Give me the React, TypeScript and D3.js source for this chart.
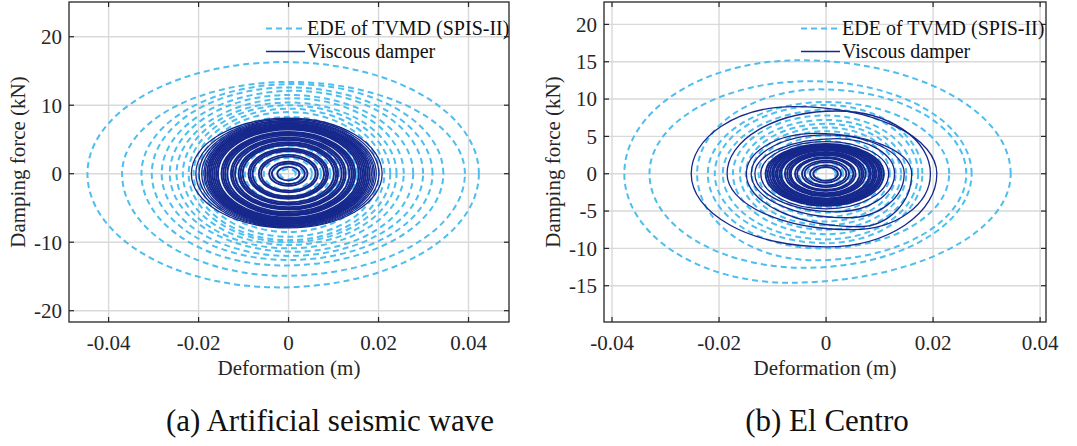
import React from 'react';
import * as d3 from 'd3';

// ---------- data ----------
const xTicks = [-0.04, -0.02, 0, 0.02, 0.04];
const yTicksA = [-20, -10, 0, 10, 20];
const yTicksB = [-15, -10, -5, 0, 5, 10, 15, 20];
const legendLabels = ['EDE of TVMD (SPIS-II)', 'Viscous damper'];
const captions = ['(a) Artificial seismic wave', '(b) El Centro'];
const xTitle = 'Deformation (m)';
const yTitle = 'Damping force (kN)';

// each hysteresis loop: [dispMax, forceMax, dispMin, forceMin, dispAtForceMax, dispAtForceMin]
const artificialEDE: number[][] = [
  [0.0423, 16.3, -0.0447, -16.6, -0.001, -0.002],
  [0.0392, 13.4, -0.037, -14.9, 0.0, -0.001],
  [0.0344, 13.1, -0.0327, -13.4, 0.001, -0.001],
  [0.032, 12.6, -0.0304, -12.6, 0.0, 0.0],
  [0.0299, 12.1, -0.0282, -12.0, 0.001, 0.0],
  [0.0277, 11.5, -0.0264, -11.4, 0.0, 0.001],
  [0.0256, 11.0, -0.0249, -10.9, 0.001, 0.0],
  [0.024, 10.4, -0.0235, -10.4, 0.0, 0.0],
  [0.0226, 10.0, -0.0222, -10.0, 0.0, 0.0],
  [0.0213, 9.5, -0.0211, -9.7, 0.0, 0.0],
  [0.0201, 9.0, -0.02, -9.2, 0.0, 0.0],
  [0.0186, 8.3, -0.019, -8.5, 0.0, 0.0],
  [0.017, 7.5, -0.0175, -7.7, 0.0, 0.0],
  [0.0152, 6.7, -0.0157, -6.8, 0.0, 0.0],
  [0.0133, 5.9, -0.0137, -6.0, 0.0, 0.0],
  [0.0113, 5.0, -0.0117, -5.1, 0.0, 0.0],
  [0.0093, 4.1, -0.0097, -4.2, 0.0, 0.0],
  [0.0072, 3.2, -0.0076, -3.3, 0.0, 0.0],
  [0.0052, 2.3, -0.0055, -2.4, 0.0, 0.0],
  [0.0032, 1.4, -0.0035, -1.5, 0.0, 0.0],
  [0.0016, 0.7, -0.0019, -0.8, 0.0, 0.0],
];

const artificialViscous: number[][] = [
  [0.0208, 8.1, -0.0216, -7.9, 0.0, 0.0],
  [0.0201, 7.95, -0.0206, -7.8, 0.0, 0.0],
  [0.0195, 7.8, -0.0199, -7.7, 0.0, 0.0],
  [0.0191, 7.7, -0.0193, -7.6, 0.0, 0.0],
  [0.0188, 7.6, -0.0188, -7.5, 0.0, 0.0],
  [0.0184, 7.5, -0.0185, -7.4, 0.0, 0.0],
  [0.018, 7.35, -0.0181, -7.3, 0.0, 0.0],
  [0.0176, 7.2, -0.0177, -7.15, 0.0, 0.0],
  [0.0172, 7.05, -0.0173, -7.0, 0.0, 0.0],
  [0.0168, 6.9, -0.0169, -6.85, 0.0, 0.0],
  [0.0164, 6.75, -0.0165, -6.7, 0.0, 0.0],
  [0.016, 6.6, -0.0161, -6.55, 0.0, 0.0],
  [0.0156, 6.45, -0.0157, -6.4, 0.0, 0.0],
  [0.0148, 6.1, -0.0149, -6.1, 0.0, 0.0],
  [0.0144, 5.95, -0.0145, -5.95, 0.0, 0.0],
  [0.014, 5.8, -0.0141, -5.8, 0.0, 0.0],
  [0.0135, 5.6, -0.0136, -5.6, 0.0, 0.0],
  [0.0127, 5.3, -0.0128, -5.25, 0.0, 0.0],
  [0.0123, 5.1, -0.0124, -5.1, 0.0, 0.0],
  [0.0118, 4.9, -0.0119, -4.9, 0.0, 0.0],
  [0.011, 4.6, -0.0111, -4.55, 0.0, 0.0],
  [0.0106, 4.4, -0.0107, -4.4, 0.0, 0.0],
  [0.0101, 4.2, -0.0102, -4.2, 0.0, 0.0],
  [0.0088, 3.7, -0.0089, -3.65, 0.0, 0.0],
  [0.0084, 3.5, -0.0085, -3.5, 0.0, 0.0],
  [0.0079, 3.3, -0.008, -3.3, 0.0, 0.0],
  [0.0065, 2.75, -0.0066, -2.7, 0.0, 0.0],
  [0.006, 2.5, -0.0061, -2.5, 0.0, 0.0],
  [0.0042, 1.75, -0.0043, -1.75, 0.0, 0.0],
  [0.0036, 1.5, -0.0037, -1.5, 0.0, 0.0],
  [0.0024, 1.0, -0.0025, -1.0, 0.0, 0.0],
];

const elCentroEDE: number[][] = [
  [0.0345, 15.2, -0.0377, -14.6, -0.005, -0.007],
  [0.0272, 12.4, -0.033, -12.6, -0.003, -0.004],
  [0.0262, 11.3, -0.0241, -11.6, -0.001, -0.002],
  [0.023, 9.6, -0.0221, -10.0, 0.0, -0.001],
  [0.018, 9.2, -0.0208, -9.3, 0.0, 0.0],
  [0.0172, 8.6, -0.0193, -8.8, 0.001, 0.0],
  [0.0161, 7.8, -0.0174, -8.1, 0.0, 0.0],
  [0.015, 7.2, -0.0161, -7.5, 0.0, 0.0],
  [0.014, 6.7, -0.015, -6.9, 0.0, 0.0],
  [0.013, 6.2, -0.0139, -6.4, 0.0, 0.0],
  [0.0119, 5.7, -0.0126, -5.8, 0.0, 0.0],
  [0.0106, 5.1, -0.0112, -5.2, 0.0, 0.0],
  [0.0092, 4.4, -0.0097, -4.5, 0.0, 0.0],
  [0.0077, 3.7, -0.0082, -3.8, 0.0, 0.0],
  [0.0062, 3.0, -0.0066, -3.1, 0.0, 0.0],
  [0.0047, 2.3, -0.0051, -2.3, 0.0, 0.0],
  [0.0032, 1.5, -0.0035, -1.6, 0.0, 0.0],
  [0.0018, 0.9, -0.002, -0.9, 0.0, 0.0],
];

const elCentroViscous: number[][] = [
  [0.0207, 9.0, -0.0252, -9.8, -0.006, 0.0],
  [0.0195, 8.4, -0.0185, -7.5, 0.002, 0.005],
  [0.016, 5.4, -0.0149, -7.1, -0.002, 0.006],
  [0.0146, 5.2, -0.014, -5.9, 0.0, 0.004],
  [0.0128, 4.7, -0.0133, -5.1, 0.002, 0.002],
  [0.0117, 4.3, -0.0122, -4.7, 0.0, 0.0],
  [0.0108, 4.0, -0.0113, -4.3, 0.0, 0.0],
  [0.0104, 3.9, -0.0109, -4.15, 0.0, 0.0],
  [0.0101, 3.8, -0.0105, -4.0, 0.0, 0.0],
  [0.0098, 3.7, -0.0101, -3.9, 0.0, 0.0],
  [0.0094, 3.6, -0.0098, -3.8, 0.0, 0.0],
  [0.0091, 3.5, -0.0094, -3.65, 0.0, 0.0],
  [0.0088, 3.4, -0.0091, -3.55, 0.0, 0.0],
  [0.0084, 3.25, -0.0087, -3.4, 0.0, 0.0],
  [0.0081, 3.15, -0.0084, -3.3, 0.0, 0.0],
  [0.0074, 2.9, -0.0077, -3.0, 0.0, 0.0],
  [0.007, 2.75, -0.0073, -2.9, 0.0, 0.0],
  [0.0067, 2.6, -0.0069, -2.75, 0.0, 0.0],
  [0.0063, 2.5, -0.0066, -2.6, 0.0, 0.0],
  [0.0055, 2.2, -0.0058, -2.3, 0.0, 0.0],
  [0.0051, 2.05, -0.0054, -2.15, 0.0, 0.0],
  [0.0043, 1.75, -0.0045, -1.8, 0.0, 0.0],
  [0.0038, 1.55, -0.004, -1.6, 0.0, 0.0],
  [0.0028, 1.15, -0.003, -1.2, 0.0, 0.0],
  [0.0022, 0.9, -0.0024, -0.95, 0.0, 0.0],
];

// ---------- styling ----------
const FONT = '"Liberation Serif", "Times New Roman", serif';
const LIGHT = '#4dbeee';
const DARK = '#16288c';
const GRID = '#d9d9d9';
const AXIS = '#262626';

type Scale = d3.ScaleLinear<number, number>;

function loopPath(l: number[], x: Scale, y: Scale): string {
  const [dMax, fMax, dMin, fMin, dT = 0, dB = 0] = l;
  const y0 = y(0);
  const rx = x(dMax), tx = x(dT), ty = y(fMax), lx = x(dMin), bx = x(dB), by = y(fMin);
  const p = d3.path();
  p.moveTo(rx, y0);
  const s = (v: number) => Math.max(0.01, Math.abs(v)).toFixed(2);
  return (
    p.toString() +
    `A${s(rx - tx)},${s(y0 - ty)} 0 0 0 ${tx.toFixed(2)},${ty.toFixed(2)}` +
    `A${s(tx - lx)},${s(y0 - ty)} 0 0 0 ${lx.toFixed(2)},${y0.toFixed(2)}` +
    `A${s(bx - lx)},${s(by - y0)} 0 0 0 ${bx.toFixed(2)},${by.toFixed(2)}` +
    `A${s(rx - bx)},${s(by - y0)} 0 0 0 ${rx.toFixed(2)},${y0.toFixed(2)}Z`
  );
}

interface PanelProps {
  id: string;
  left: number;
  right: number;
  top: number;
  bottom: number;
  xDomain: [number, number];
  yDomain: [number, number];
  yTicks: number[];
  ede: number[][];
  viscous: number[][];
  caption: string;
  captionX: number;
  legendX: number;
}

function Panel(p: PanelProps) {
  const x = d3.scaleLinear().domain(p.xDomain).range([p.left, p.right]);
  const y = d3.scaleLinear().domain(p.yDomain).range([p.bottom, p.top]);
  const tick = 5;
  const midX = (p.left + p.right) / 2;
  const midY = (p.top + p.bottom) / 2;
  return (
    <g>
      <defs>
        <clipPath id={p.id}>
          <rect x={p.left} y={p.top} width={p.right - p.left} height={p.bottom - p.top} />
        </clipPath>
      </defs>
      {xTicks.map((t) => (
        <line key={'gx' + t} x1={x(t)} x2={x(t)} y1={p.top} y2={p.bottom} stroke={GRID} strokeWidth={1.4} />
      ))}
      {p.yTicks.map((t) => (
        <line key={'gy' + t} x1={p.left} x2={p.right} y1={y(t)} y2={y(t)} stroke={GRID} strokeWidth={1.4} />
      ))}
      <g clipPath={`url(#${p.id})`}>
        {p.ede.map((l, i) => (
          <path key={'e' + i} d={loopPath(l, x, y)} fill="none" stroke={LIGHT} strokeWidth={2} strokeDasharray="6 4" />
        ))}
        {p.viscous.map((l, i) => (
          <path key={'v' + i} d={loopPath(l, x, y)} fill="none" stroke={DARK} strokeWidth={i < 6 ? 1.3 : 1.9} />
        ))}
      </g>
      <rect x={p.left} y={p.top} width={p.right - p.left} height={p.bottom - p.top} fill="none" stroke={AXIS} strokeWidth={1.3} />
      {xTicks.map((t) => (
        <g key={'tx' + t}>
          <line x1={x(t)} x2={x(t)} y1={p.bottom} y2={p.bottom - tick} stroke={AXIS} strokeWidth={1.2} />
          <line x1={x(t)} x2={x(t)} y1={p.top} y2={p.top + tick} stroke={AXIS} strokeWidth={1.2} />
          <text x={x(t)} y={350} textAnchor="middle" fontFamily={FONT} fontSize={21} fill={AXIS}>
            {String(t)}
          </text>
        </g>
      ))}
      {p.yTicks.map((t) => (
        <g key={'ty' + t}>
          <line x1={p.left} x2={p.left + tick} y1={y(t)} y2={y(t)} stroke={AXIS} strokeWidth={1.2} />
          <line x1={p.right} x2={p.right - tick} y1={y(t)} y2={y(t)} stroke={AXIS} strokeWidth={1.2} />
          <text x={p.left - 7} y={y(t)} dy="0.35em" textAnchor="end" fontFamily={FONT} fontSize={21} fill={AXIS}>
            {String(t)}
          </text>
        </g>
      ))}
      <text x={midX} y={375} textAnchor="middle" fontFamily={FONT} fontSize={21} fill={AXIS}>
        {xTitle}
      </text>
      <text
        transform={`translate(${p.left - 51},${midY}) rotate(-90)`}
        textAnchor="middle"
        dy="0.35em"
        fontFamily={FONT}
        fontSize={21}
        fill={AXIS}
      >
        {yTitle}
      </text>
      <line x1={p.legendX} x2={p.legendX + 39} y1={28.5} y2={28.5} stroke={LIGHT} strokeWidth={2} strokeDasharray="6 4" />
      <line x1={p.legendX} x2={p.legendX + 39} y1={51.5} y2={51.5} stroke={DARK} strokeWidth={1.3} />
      <text x={p.legendX + 41} y={35} fontFamily={FONT} fontSize={20} fill="#111">
        {legendLabels[0]}
      </text>
      <text x={p.legendX + 41} y={58} fontFamily={FONT} fontSize={20} fill="#111">
        {legendLabels[1]}
      </text>
      <text x={p.captionX} y={431} textAnchor="middle" fontFamily={FONT} fontSize={31} fill="#111">
        {p.caption}
      </text>
    </g>
  );
}

export default function App() {
  return (
    <svg width={1077} height={446} style={{ position: 'absolute', left: 0, top: 0, background: '#fff' }}>
      <rect x={0} y={0} width={1077} height={446} fill="#fff" />
      <Panel
        id="clipA"
        left={69}
        right={509}
        top={2}
        bottom={322}
        xDomain={[-0.0488, 0.049]}
        yDomain={[-21.65, 25.07]}
        yTicks={yTicksA}
        ede={artificialEDE}
        viscous={artificialViscous}
        caption={captions[0]}
        captionX={330}
        legendX={266}
      />
      <Panel
        id="clipB"
        left={604}
        right={1046}
        top={2}
        bottom={322}
        xDomain={[-0.0415, 0.0411]}
        yDomain={[-19.86, 23.0]}
        yTicks={yTicksB}
        ede={elCentroEDE}
        viscous={elCentroViscous}
        caption={captions[1]}
        captionX={827}
        legendX={801}
      />
    </svg>
  );
}
